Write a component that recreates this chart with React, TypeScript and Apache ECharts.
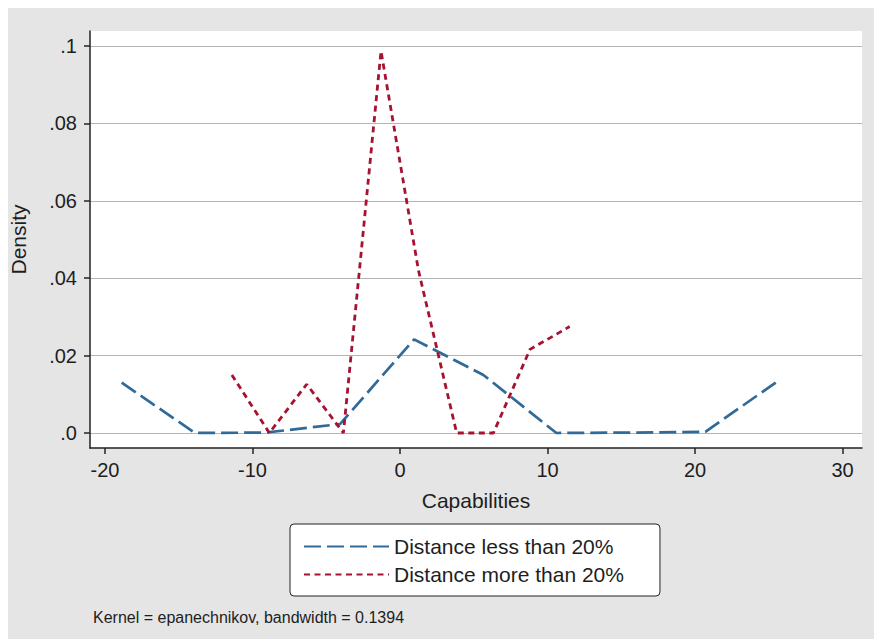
import React, { useEffect, useRef } from "react";
import * as echarts from "echarts";

const blueX = [-18.87, -13.9, -9.1, -4.07, 0.95, 5.65, 10.6, 15.6, 20.7, 25.5];
const blueY = [0.013, 0.0, 0.0001, 0.0023, 0.0242, 0.015, 0.0, 0.0001, 0.0003, 0.0131];
const redX = [-11.4, -8.86, -6.33, -3.84, -1.29, 1.25, 3.84, 6.33, 8.81, 11.5];
const redY = [0.015, 0.0, 0.0126, 0.0, 0.0987, 0.042, 0.0, 0.0, 0.0216, 0.0275];
const xTicks = [-20, -10, 0, 10, 20, 30];
const yTicks = [0, 0.02, 0.04, 0.06, 0.08, 0.1];
const seriesNames = ["Distance less than 20%", "Distance more than 20%"];
const note = "Kernel = epanechnikov, bandwidth = 0.1394";

const FONT = "'Liberation Sans', Arial, Helvetica, sans-serif";
const TXT = "#1e1e1e";

function pairs(xs: number[], ys: number[]) {
  return xs.map((x, i) => [x, ys[i]]);
}

export default function App() {
  const ref = useRef<HTMLDivElement>(null);
  useEffect(() => {
    if (!ref.current) return;
    const chart = echarts.init(ref.current, undefined, { renderer: "svg" });
    chart.setOption({
      animation: false,
      backgroundColor: "#e5e5e5",
      textStyle: { fontFamily: FONT },
      title: {
        text: note,
        left: 85,
        top: 601,
        padding: 0,
        textStyle: { fontSize: 16, fontWeight: "normal", color: TXT, fontFamily: FONT },
      },
      grid: {
        left: 82,
        right: 12,
        top: 23,
        bottom: 191,
        show: true,
        backgroundColor: "#ffffff",
        borderWidth: 0,
        containLabel: false,
        outerBoundsMode: "none",
      },
      legend: {
        orient: "vertical",
        left: 282,
        top: 516,
        data: seriesNames,
        backgroundColor: "#ffffff",
        borderColor: "#222222",
        borderWidth: 1,
        borderRadius: 4,
        padding: [12, 36, 11, 13],
        itemWidth: 85,
        itemHeight: 14,
        itemGap: 7,
        itemStyle: { opacity: 0 },
        textStyle: { fontSize: 21, color: TXT, fontFamily: FONT },
      },
      xAxis: {
        type: "value",
        min: -21.02,
        max: 31.32,
        name: "Capabilities",
        nameLocation: "middle",
        nameGap: 42,
        nameTextStyle: { fontSize: 21, color: TXT, fontFamily: FONT },
        axisLine: { show: true, onZero: false, lineStyle: { color: "#222222", width: 1.5 } },
        axisTick: { show: true, length: 6, lineStyle: { color: "#222222", width: 1.5 }, customValues: xTicks },
        axisLabel: { fontSize: 20, color: TXT, margin: 12, customValues: xTicks, fontFamily: FONT },
        splitLine: { show: false },
      },
      yAxis: {
        type: "value",
        min: -0.00388,
        max: 0.10388,
        name: "Density",
        nameLocation: "middle",
        nameGap: 61,
        nameTextStyle: { fontSize: 21, color: TXT, fontFamily: FONT },
        axisLine: { show: true, onZero: false, lineStyle: { color: "#222222", width: 1.5 } },
        axisTick: { show: true, length: 6, lineStyle: { color: "#222222", width: 1.5 }, customValues: yTicks },
        axisLabel: {
          fontSize: 20,
          color: TXT,
          margin: 13,
          customValues: yTicks,
          fontFamily: FONT,
          formatter: (v: number) => (v === 0 ? ".0" : String(+v.toFixed(2)).replace(/^0/, "")),
        },
        splitLine: { show: true, lineStyle: { color: "#b4b4b4", width: 1 } },
      },
      series: [
        {
          name: seriesNames[0],
          type: "line",
          data: pairs(blueX, blueY),
          symbol: "none",
          smooth: false,
          color: "#2f6a98",
          lineStyle: { color: "#2f6a98", width: 2.7, type: [17, 6] },
        },
        {
          name: seriesNames[1],
          type: "line",
          data: pairs(redX, redY),
          symbol: "none",
          smooth: false,
          color: "#a6122f",
          lineStyle: { color: "#a6122f", width: 2.8, type: [6, 4.5] },
        },
      ],
    });
    return () => chart.dispose();
  }, []);
  return (
    <div
      ref={ref}
      style={{ position: "absolute", left: 8, top: 8, width: 866, height: 631 }}
    />
  );
}
